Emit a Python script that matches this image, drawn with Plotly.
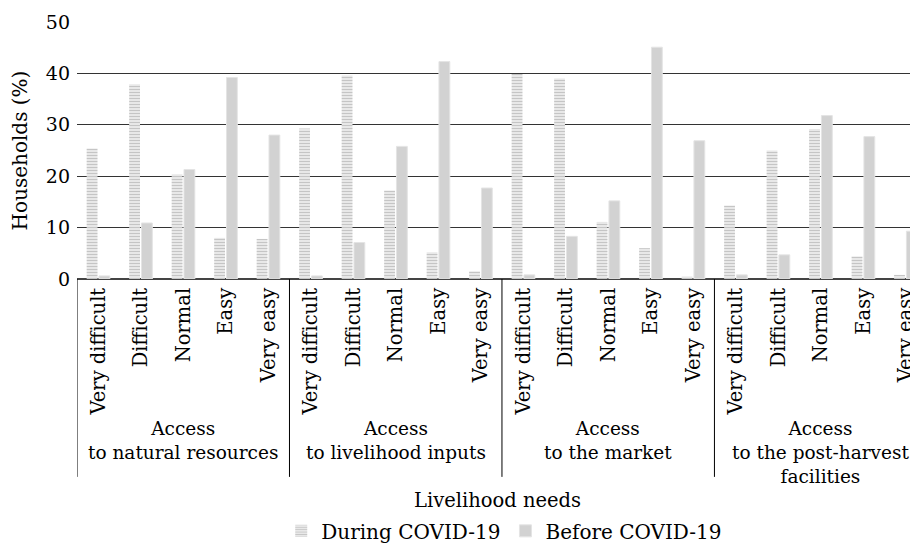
import plotly.graph_objects as go

groups = ["Access<br>to natural resources", "Access<br>to livelihood inputs",
          "Access<br>to the market", "Access<br>to the post-harvest<br>facilities"]
group_keys = [" ", "  ", "   ", "    "]   # blank keys: group labels drawn as annotations
levels = ["Very difficult", "Difficult", "Normal", "Easy", "Very easy"]

during = [25.4, 37.9, 20.4, 8.0, 7.8,
          29.3, 39.6, 17.2, 5.2, 1.5,
          39.9, 39.0, 11.1, 6.0, 0.5,
          14.3, 25.0, 29.2, 4.4, 0.8]
before = [0.6, 10.9, 21.3, 39.2, 28.0,
          0.6, 7.1, 25.8, 42.3, 17.7,
          0.8, 8.3, 15.2, 45.1, 26.9,
          0.8, 4.7, 31.8, 27.7, 9.3]

outer = [g for g in group_keys for _ in levels]
inner = [l for _ in group_keys for l in levels]

font = "DejaVu Serif"

fig = go.Figure()
fig.add_trace(go.Bar(
    name="During COVID-19", x=[outer, inner], y=during,
    marker=dict(color="white",
                pattern=dict(shape="-", fgcolor="#8c8c8c", bgcolor="white",
                             size=3, solidity=0.6),
                line=dict(width=0)),
))
fig.add_trace(go.Bar(
    name="Before COVID-19", x=[outer, inner], y=before,
    marker=dict(color="#d2d2d2", line=dict(color="#e4e4e4", width=1)),
))

n = len(levels)
# group labels and dividers, placed on the category axis (index units)
for i, g in enumerate(groups):
    fig.add_annotation(x=i * n + (n - 1) / 2, xref="x", y=-0.535, yref="paper",
                       text=g, showarrow=False, yanchor="top", xanchor="center",
                       font=dict(family=font, size=18.5, color="black"))
    fig.add_shape(type="line", xref="x", yref="paper",
                  x0=i * n - 0.5, x1=i * n - 0.5, y0=0, y1=-0.77,
                  line=dict(color="black", width=1))

fig.add_annotation(x=0.5, xref="paper", y=-0.86, yref="paper",
                   text="Livelihood needs", showarrow=False,
                   yanchor="middle", xanchor="center",
                   font=dict(family=font, size=19.5, color="black"))

# page body has an 8px default margin, so the figure is sized to fit after it
fig.update_layout(
    width=910, height=536,
    margin=dict(l=69, r=0, t=14, b=265, autoexpand=False),
    paper_bgcolor="white", plot_bgcolor="white",
    barmode="group", bargap=0.42, bargroupgap=0.12,
    font=dict(family=font, size=20, color="black"),
    showlegend=True,
    legend=dict(orientation="h", x=0.508, xanchor="center", y=-0.98, yanchor="middle",
                font=dict(family=font, size=20), itemwidth=30, traceorder="normal"),
)
fig.update_xaxes(
    type="multicategory", tickangle=-90, tickfont=dict(family=font, size=19.5),
    range=[-0.5, 19.29], showdividers=False,
    showline=True, linecolor="#444", ticks="", automargin=False,
)
fig.update_yaxes(
    range=[0, 50], dtick=10, showgrid=True, gridcolor="#333", gridwidth=1,
    zeroline=True, zerolinecolor="#444", tickfont=dict(family=font, size=19),
    automargin=False, ticklabelstandoff=6,
    title=dict(text="Households (%)", font=dict(family=font, size=20), standoff=14),
)

fig.write_html("out.html")
